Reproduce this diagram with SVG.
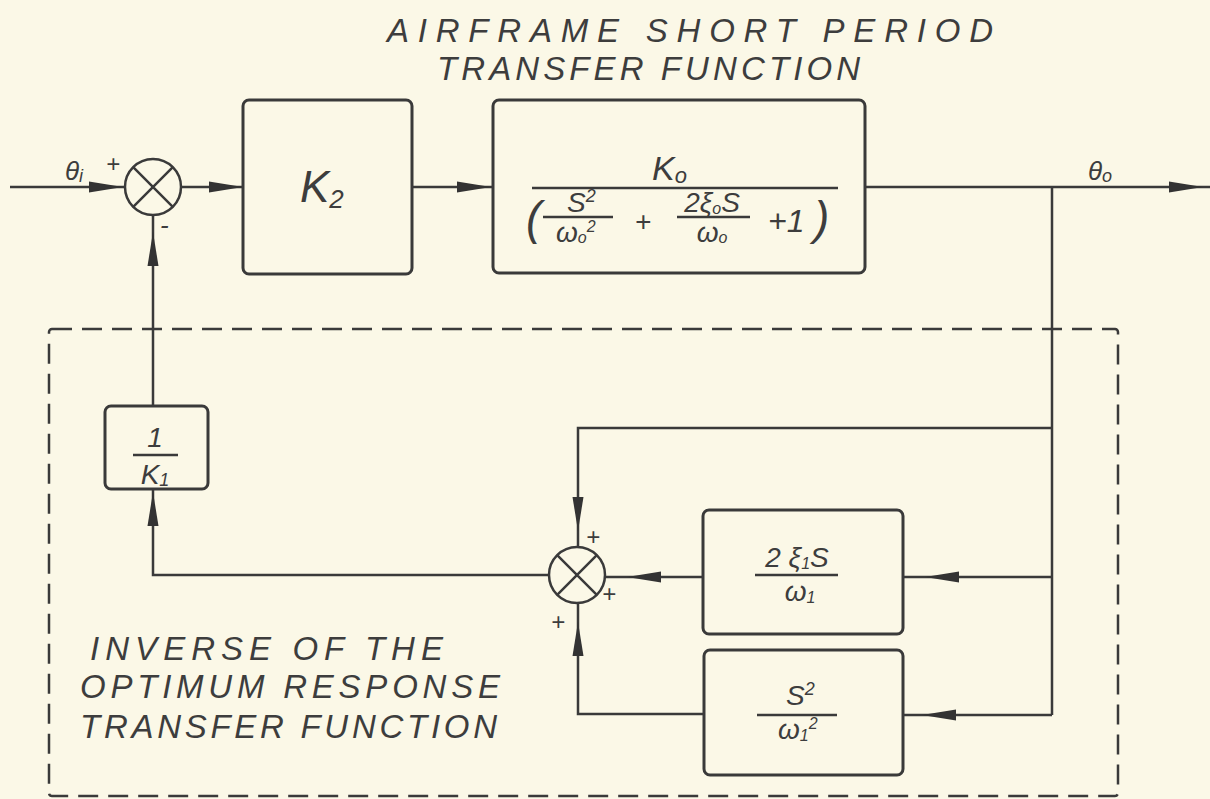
<svg xmlns="http://www.w3.org/2000/svg" width="1210" height="799" viewBox="0 0 1210 799">
<style>
.ln{stroke:#3a3a3a;stroke-width:2.5;fill:none}
.bx{stroke:#3a3a3a;stroke-width:3;fill:none}
.dash{stroke:#3a3a3a;stroke-width:2.5;fill:none;stroke-dasharray:20 10}
.ah{fill:#333}
.t{font-family:"Liberation Sans",Arial,sans-serif;font-style:italic;fill:#3d3d3d}
.lbl{font-size:33px}
.m{font-size:28px;text-anchor:middle}
.s{font-size:20px}
</style>
<defs>
<path id="ah" d="M0,0 L-34,-5.5 L-34,5.5 Z"/>
</defs>
<rect width="1210" height="799" fill="#fbf8e7"/>

<g id="titles">
<text class="t lbl" x="387" y="42" textLength="606" lengthAdjust="spacing">AIRFRAME  SHORT  PERIOD</text>
<text class="t lbl" x="437" y="80" textLength="423" lengthAdjust="spacing">TRANSFER  FUNCTION</text>
<text class="t lbl" x="90" y="660" textLength="353" lengthAdjust="spacing">INVERSE  OF  THE</text>
<text class="t lbl" x="80" y="698" textLength="420" lengthAdjust="spacing">OPTIMUM  RESPONSE</text>
<text class="t lbl" x="80" y="738" textLength="417" lengthAdjust="spacing">TRANSFER  FUNCTION</text>
</g>

<g id="dashed-boundary">
<rect class="dash" x="49" y="329" width="1069" height="467" rx="3"/>
</g>

<g id="connectors">
<path class="ln" d="M10,187 H125"/>
<path class="ln" d="M181,187 H243"/>
<path class="ln" d="M412,187 H493"/>
<path class="ln" d="M865,187 H1210"/>
<path class="ln" d="M1052,187 V715"/>
<path class="ln" d="M1052,428 H578 V547"/>
<path class="ln" d="M1052,577 H903"/>
<path class="ln" d="M703,577 H605"/>
<path class="ln" d="M1052,715 H903"/>
<path class="ln" d="M704,714 H578 V603"/>
<path class="ln" d="M549,575 H153 V489"/>
<path class="ln" d="M153,406 V215"/>
<use href="#ah" class="ah" transform="translate(123,187)"/>
<use href="#ah" class="ah" transform="translate(243,187)"/>
<use href="#ah" class="ah" transform="translate(491,187)"/>
<use href="#ah" class="ah" transform="translate(1203,187)"/>
<use href="#ah" class="ah" transform="translate(578,531) rotate(90)"/>
<use href="#ah" class="ah" transform="translate(925,577) rotate(180)"/>
<use href="#ah" class="ah" transform="translate(627,577) rotate(180)"/>
<use href="#ah" class="ah" transform="translate(922,715) rotate(180)"/>
<use href="#ah" class="ah" transform="translate(578,622) rotate(-90)"/>
<use href="#ah" class="ah" transform="translate(153,492) rotate(-90)"/>
<use href="#ah" class="ah" transform="translate(153,232) rotate(-90)"/>
</g>

<g id="signals">
<text class="t" x="65" y="180" font-size="26">θ<tspan font-size="18" dy="2">i</tspan></text>
<text class="t" x="1088" y="180" font-size="26">θ<tspan font-size="18" dy="2">o</tspan></text>
</g>

<g id="sum1">
<circle class="ln" cx="153" cy="187" r="28"/>
<path class="ln" d="M133.2,167.2 L172.8,206.8 M172.8,167.2 L133.2,206.8"/>
<text class="t" x="106" y="172" font-size="24">+</text>
<text class="t" x="160" y="234" font-size="26">-</text>
</g>

<g id="k2">
<rect class="bx" x="243" y="100" width="169" height="174" rx="6"/>
<text class="t" x="300" y="202" font-size="44">K<tspan font-size="26" dy="6">2</tspan></text>
</g>

<g id="airframe">
<rect class="bx" x="493" y="100" width="372" height="173" rx="6"/>
<text class="t" x="652" y="180" font-size="34">K<tspan font-size="22" dy="3">o</tspan></text>
<path class="ln" d="M532,188 H838"/>
<text class="t" x="526" y="234" font-size="46">(</text>
<text class="t" x="567" y="212" font-size="28">S<tspan font-size="18" dy="-10">2</tspan></text>
<path class="ln" d="M543,217 H613"/>
<text class="t" x="556" y="242" font-size="28">ω<tspan font-size="16" dy="1">o</tspan><tspan font-size="16" dy="-11">2</tspan></text>
<text class="t m" x="643" y="231" font-size="32">+</text>
<text class="t m" x="712" y="212">2ξ<tspan font-size="16" dy="2">o</tspan><tspan dy="-2">S</tspan></text>
<path class="ln" d="M677,217 H750"/>
<text class="t m" x="712" y="242">ω<tspan font-size="16" dy="1">o</tspan></text>
<text class="t" x="768" y="232" font-size="32">+1</text>
<text class="t" x="814" y="234" font-size="46">)</text>
</g>

<g id="inv-k1">
<rect class="bx" x="105" y="406" width="103" height="83" rx="6"/>
<text class="t m" x="155" y="447">1</text>
<path class="ln" d="M133,455 H178"/>
<text class="t m" x="155" y="484">K<tspan font-size="18" dy="2">1</tspan></text>
</g>

<g id="sum2">
<circle class="ln" cx="577" cy="575" r="28"/>
<path class="ln" d="M557.2,555.2 L596.8,594.8 M596.8,555.2 L557.2,594.8"/>
<text class="t" x="586" y="545" font-size="24">+</text>
<text class="t" x="602" y="602" font-size="24">+</text>
<text class="t" x="551" y="630" font-size="24">+</text>
</g>

<g id="damping">
<rect class="bx" x="703" y="510" width="200" height="124" rx="6"/>
<text class="t m" x="797" y="567">2 ξ<tspan font-size="16" dy="2">1</tspan><tspan dy="-2">S</tspan></text>
<path class="ln" d="M755,575 H838"/>
<text class="t m" x="800" y="601">ω<tspan font-size="16" dy="2">1</tspan></text>
</g>

<g id="accel">
<rect class="bx" x="704" y="650" width="199" height="125" rx="6"/>
<text class="t" x="786" y="705" font-size="28">S<tspan font-size="18" dy="-10">2</tspan></text>
<path class="ln" d="M757,715 H837"/>
<text class="t" x="778" y="739" font-size="28">ω<tspan font-size="16" dy="2">1</tspan><tspan font-size="16" dy="-12">2</tspan></text>
</g>
</svg>
